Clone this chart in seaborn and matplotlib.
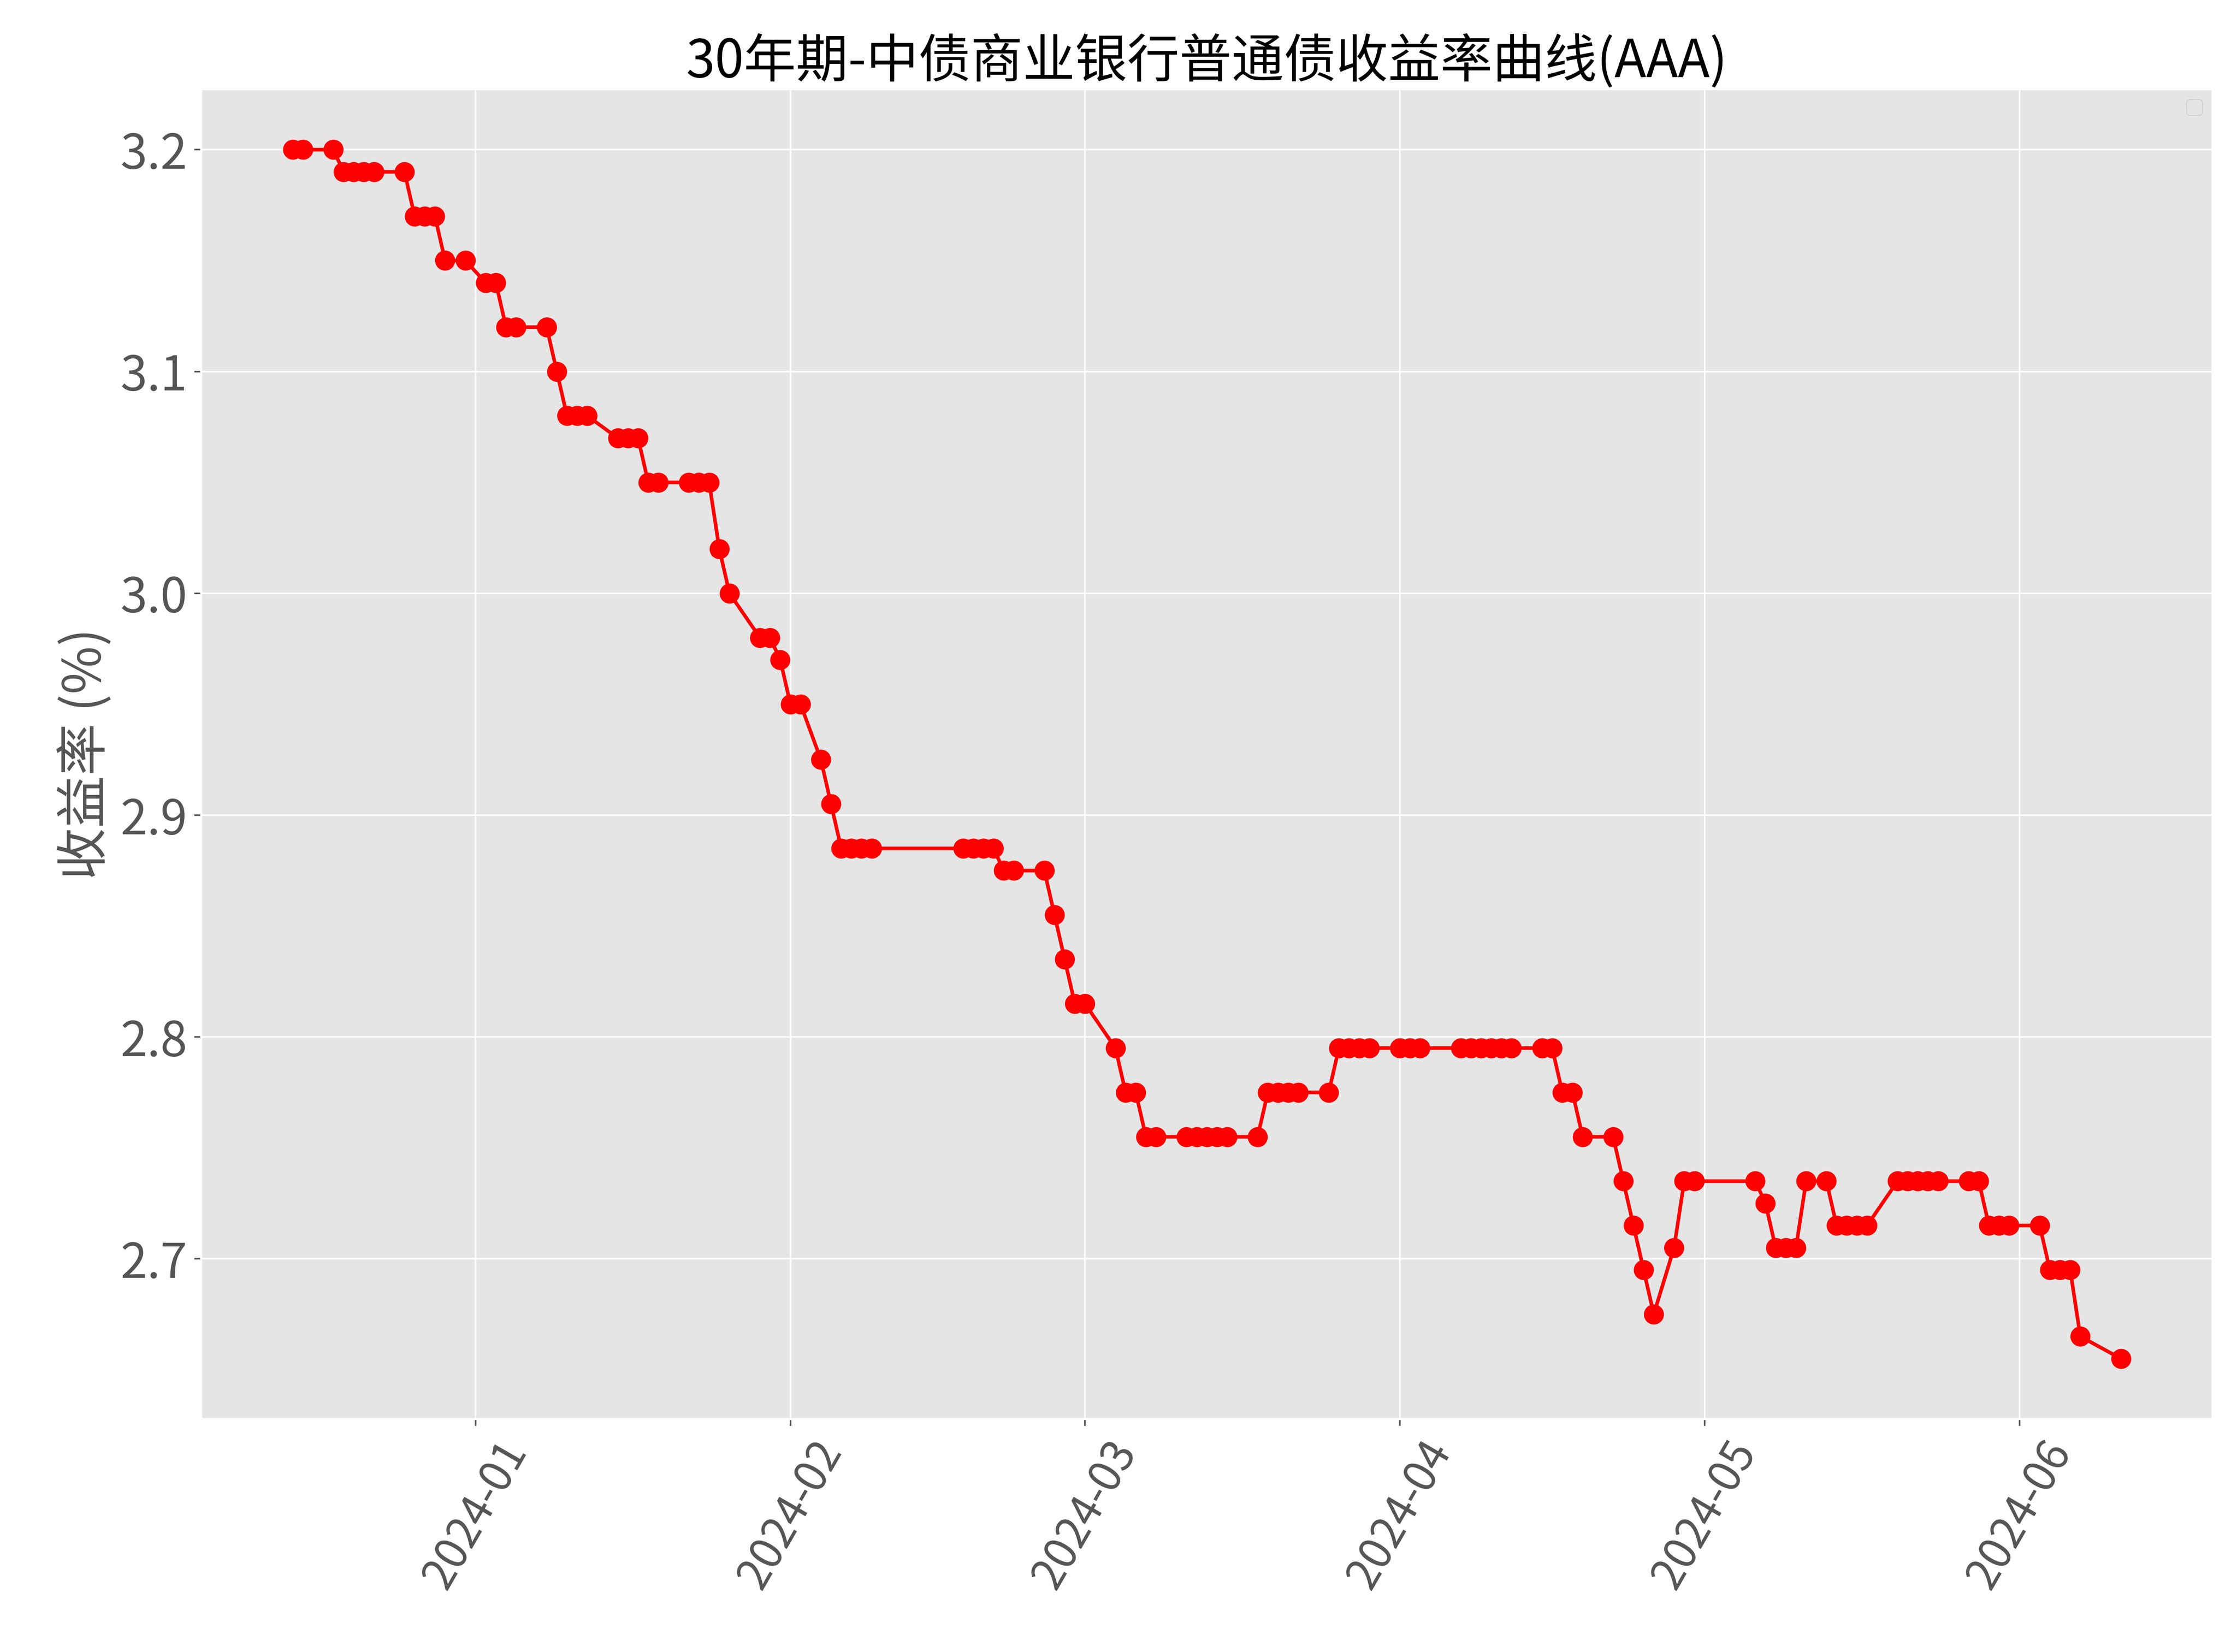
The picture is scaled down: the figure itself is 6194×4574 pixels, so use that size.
import pandas as pd
import matplotlib.pyplot as plt
import matplotlib.dates as mdates
import seaborn as sns

# ── Data ──────────────────────────────────────────────────────
dates = [
    "2023-12-14", "2023-12-15", "2023-12-18", "2023-12-19", "2023-12-20", "2023-12-21",
    "2023-12-22", "2023-12-25", "2023-12-26", "2023-12-27", "2023-12-28", "2023-12-29",
    "2023-12-31", "2024-01-02", "2024-01-03", "2024-01-04", "2024-01-05", "2024-01-08",
    "2024-01-09", "2024-01-10", "2024-01-11", "2024-01-12", "2024-01-15", "2024-01-16",
    "2024-01-17", "2024-01-18", "2024-01-19", "2024-01-22", "2024-01-23", "2024-01-24",
    "2024-01-25", "2024-01-26", "2024-01-29", "2024-01-30", "2024-01-31", "2024-02-01",
    "2024-02-02", "2024-02-04", "2024-02-05", "2024-02-06", "2024-02-07", "2024-02-08",
    "2024-02-09", "2024-02-18", "2024-02-19", "2024-02-20", "2024-02-21", "2024-02-22",
    "2024-02-23", "2024-02-26", "2024-02-27", "2024-02-28", "2024-02-29", "2024-03-01",
    "2024-03-04", "2024-03-05", "2024-03-06", "2024-03-07", "2024-03-08", "2024-03-11",
    "2024-03-12", "2024-03-13", "2024-03-14", "2024-03-15", "2024-03-18", "2024-03-19",
    "2024-03-20", "2024-03-21", "2024-03-22", "2024-03-25", "2024-03-26", "2024-03-27",
    "2024-03-28", "2024-03-29", "2024-04-01", "2024-04-02", "2024-04-03", "2024-04-07",
    "2024-04-08", "2024-04-09", "2024-04-10", "2024-04-11", "2024-04-12", "2024-04-15",
    "2024-04-16", "2024-04-17", "2024-04-18", "2024-04-19", "2024-04-22", "2024-04-23",
    "2024-04-24", "2024-04-25", "2024-04-26", "2024-04-28", "2024-04-29", "2024-04-30",
    "2024-05-06", "2024-05-07", "2024-05-08", "2024-05-09", "2024-05-10", "2024-05-11",
    "2024-05-13", "2024-05-14", "2024-05-15", "2024-05-16", "2024-05-17", "2024-05-20",
    "2024-05-21", "2024-05-22", "2024-05-23", "2024-05-24", "2024-05-27", "2024-05-28",
    "2024-05-29", "2024-05-30", "2024-05-31", "2024-06-03", "2024-06-04", "2024-06-05",
    "2024-06-06", "2024-06-07", "2024-06-11",
]
yields = [
    3.20, 3.20, 3.20, 3.19, 3.19, 3.19,
    3.19, 3.19, 3.17, 3.17, 3.17, 3.15,
    3.15, 3.14, 3.14, 3.12, 3.12, 3.12,
    3.10, 3.08, 3.08, 3.08, 3.07, 3.07,
    3.07, 3.05, 3.05, 3.05, 3.05, 3.05,
    3.02, 3.00, 2.98, 2.98, 2.97, 2.95,
    2.95, 2.925, 2.905, 2.885, 2.885, 2.885,
    2.885, 2.885, 2.885, 2.885, 2.885, 2.875,
    2.875, 2.875, 2.855, 2.835, 2.815, 2.815,
    2.795, 2.775, 2.775, 2.755, 2.755, 2.755,
    2.755, 2.755, 2.755, 2.755, 2.755, 2.775,
    2.775, 2.775, 2.775, 2.775, 2.795, 2.795,
    2.795, 2.795, 2.795, 2.795, 2.795, 2.795,
    2.795, 2.795, 2.795, 2.795, 2.795, 2.795,
    2.795, 2.775, 2.775, 2.755, 2.755, 2.735,
    2.715, 2.695, 2.675, 2.705, 2.735, 2.735,
    2.735, 2.725, 2.705, 2.705, 2.705, 2.735,
    2.735, 2.715, 2.715, 2.715, 2.715, 2.735,
    2.735, 2.735, 2.735, 2.735, 2.735, 2.735,
    2.715, 2.715, 2.715, 2.715, 2.695, 2.695,
    2.695, 2.665, 2.655,
]

df = pd.DataFrame({"date": pd.to_datetime(dates), "yield": yields})

# ── Style ─────────────────────────────────────────────────────
plt.style.use("ggplot")
plt.rcParams['font.family'] = ['Noto Sans CJK SC', 'DejaVu Sans']
plt.rcParams['axes.unicode_minus'] = False

fig, ax = plt.subplots(figsize=(15.485, 11.435), dpi=400)
fig.subplots_adjust(left=0.09, right=0.989, top=0.946, bottom=0.141)

sns.lineplot(data=df, x="date", y="yield", ax=ax, color="red",
             marker="o", markersize=10, markeredgewidth=0, linewidth=1.8)

ax.set_title("30年期-中债商业银行普通债收益率曲线(AAA)", fontsize=26, color="black")
ax.set_xlabel("")
ax.set_ylabel("收益率 (%)", fontsize=26, color="#555555")
ax.xaxis.set_major_locator(mdates.MonthLocator())
ax.xaxis.set_major_formatter(mdates.DateFormatter("%Y-%m"))
ax.tick_params(axis="x", labelsize=22, rotation=60)
ax.tick_params(axis="y", labelsize=24)
ax.set_yticks([2.7, 2.8, 2.9, 3.0, 3.1, 3.2])
ax.legend(handles=[], loc="upper right")

fig.savefig("out.png", dpi=400)
